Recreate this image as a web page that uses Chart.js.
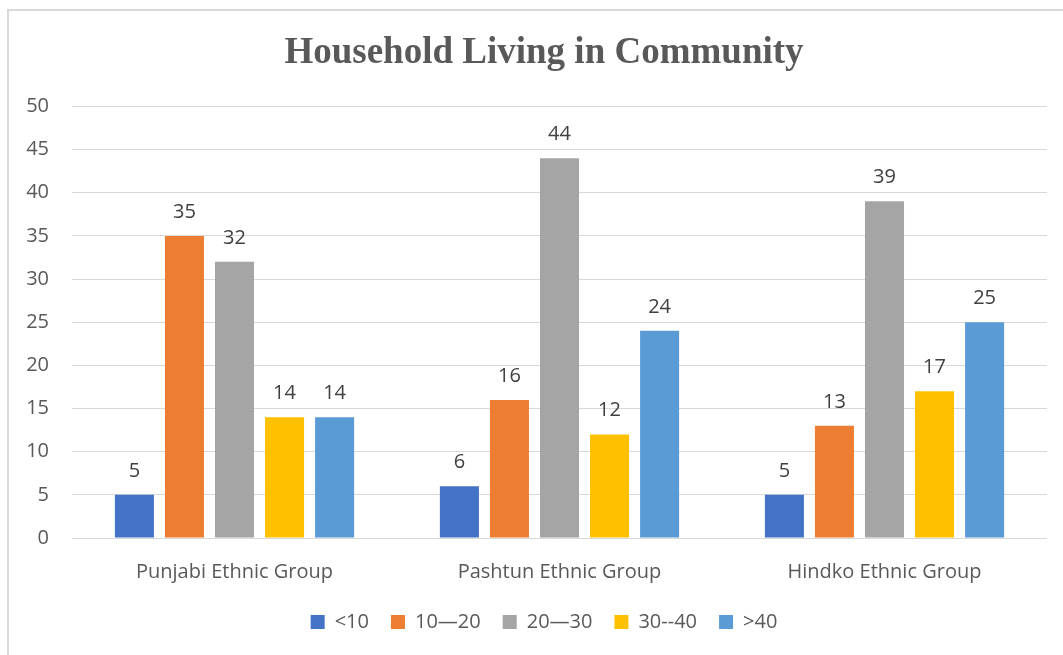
<!DOCTYPE html>
<html>
<head>
<meta charset="utf-8">
<script src="https://cdn.jsdelivr.net/npm/chart.js@4.4.1/dist/chart.umd.min.js"></script>
<style>
  html, body { margin: 0; padding: 0; background: #fff; }
  #frame {
    position: absolute; left: 7px; top: 9px; width: 1056px; height: 646px;
    border-left: 2px solid #d9d9d9; border-top: 2px solid #d9d9d9;
  }
  #wrap { position: absolute; left: 0; top: 0; width: 1063px; height: 655px; }
</style>
</head>
<body>
<div id="frame"></div>
<div id="wrap"><canvas id="chart" width="1063" height="655"></canvas></div>
<script>
const categories = ['Punjabi Ethnic Group', 'Pashtun Ethnic Group', 'Hindko Ethnic Group'];
const seriesNames = ['<10', '10\u201420', '20\u201430', '30--40', '>40'];
const seriesColors = ['#4472C4', '#ED7D31', '#A5A5A5', '#FFC000', '#5B9BD5'];
const under10 = [5, 6, 5];
const from10to20 = [35, 16, 13];
const from20to30 = [32, 44, 39];
const from30to40 = [14, 12, 17];
const over40 = [14, 24, 25];
const yTicks = [0, 5, 10, 15, 20, 25, 30, 35, 40, 45, 50];

const seriesValues = [under10, from10to20, from20to30, from30to40, over40];

const textFont = { family: '"Open Sans", sans-serif', size: 20 };

// value labels above every bar
const barLabels = {
    id: 'barLabels',
    afterDatasetsDraw(chart) {
        const ctx = chart.ctx;
        ctx.save();
        ctx.font = '20px "Open Sans", sans-serif';
        ctx.fillStyle = '#404040';
        ctx.textAlign = 'center';
        ctx.textBaseline = 'alphabetic';
        chart.data.datasets.forEach((ds, i) => {
            chart.getDatasetMeta(i).data.forEach((bar, j) => {
                ctx.fillText(String(ds.data[j]), bar.x, bar.y - 18);
            });
        });
        ctx.restore();
    }
};

const ctx = document.getElementById('chart').getContext('2d');
new Chart(ctx, {
    type: 'bar',
    data: {
        labels: categories,
        datasets: seriesNames.map((name, i) => ({
            label: name,
            data: seriesValues[i],
            backgroundColor: seriesColors[i],
            borderWidth: 0,
            barPercentage: 0.78,
            categoryPercentage: 0.77
        }))
    },
    options: {
        responsive: false,
        animation: false,
        layout: { padding: { left: 25, right: 0, top: 10, bottom: 13 } },
        plugins: {
            title: {
                display: true,
                text: 'Household Living in Community',
                color: '#595959',
                font: { family: '"Liberation Serif", serif', size: 37, weight: 'bold' },
                padding: { top: 21, bottom: 31 }
            },
            legend: {
                position: 'bottom',
                labels: {
                    color: '#595959',
                    font: textFont,
                    boxWidth: 14,
                    boxHeight: 14,
                    padding: 22
                }
            },
            tooltip: { enabled: false }
        },
        scales: {
            x: {
                grid: { display: false },
                border: { display: false },
                ticks: { color: '#595959', font: textFont, padding: 14 },
                afterFit(scale) { scale.height = 52; }
            },
            y: {
                min: 0,
                max: 50,
                afterBuildTicks(scale) { scale.ticks = yTicks.map(v => ({ value: v })); },
                grid: { color: '#d9d9d9', lineWidth: 1, drawTicks: false },
                border: { display: false },
                ticks: { color: '#595959', font: textFont, padding: 23 },
                afterFit(scale) { scale.width = 47; }
            },
            // empty spacer on the right edge of the plot
            spacer: {
                type: 'linear',
                position: 'right',
                grid: { display: false },
                border: { display: false },
                ticks: { display: false },
                afterFit(scale) { scale.width = 16; }
            }
        }
    },
    plugins: [barLabels]
});
</script>
</body>
</html>
